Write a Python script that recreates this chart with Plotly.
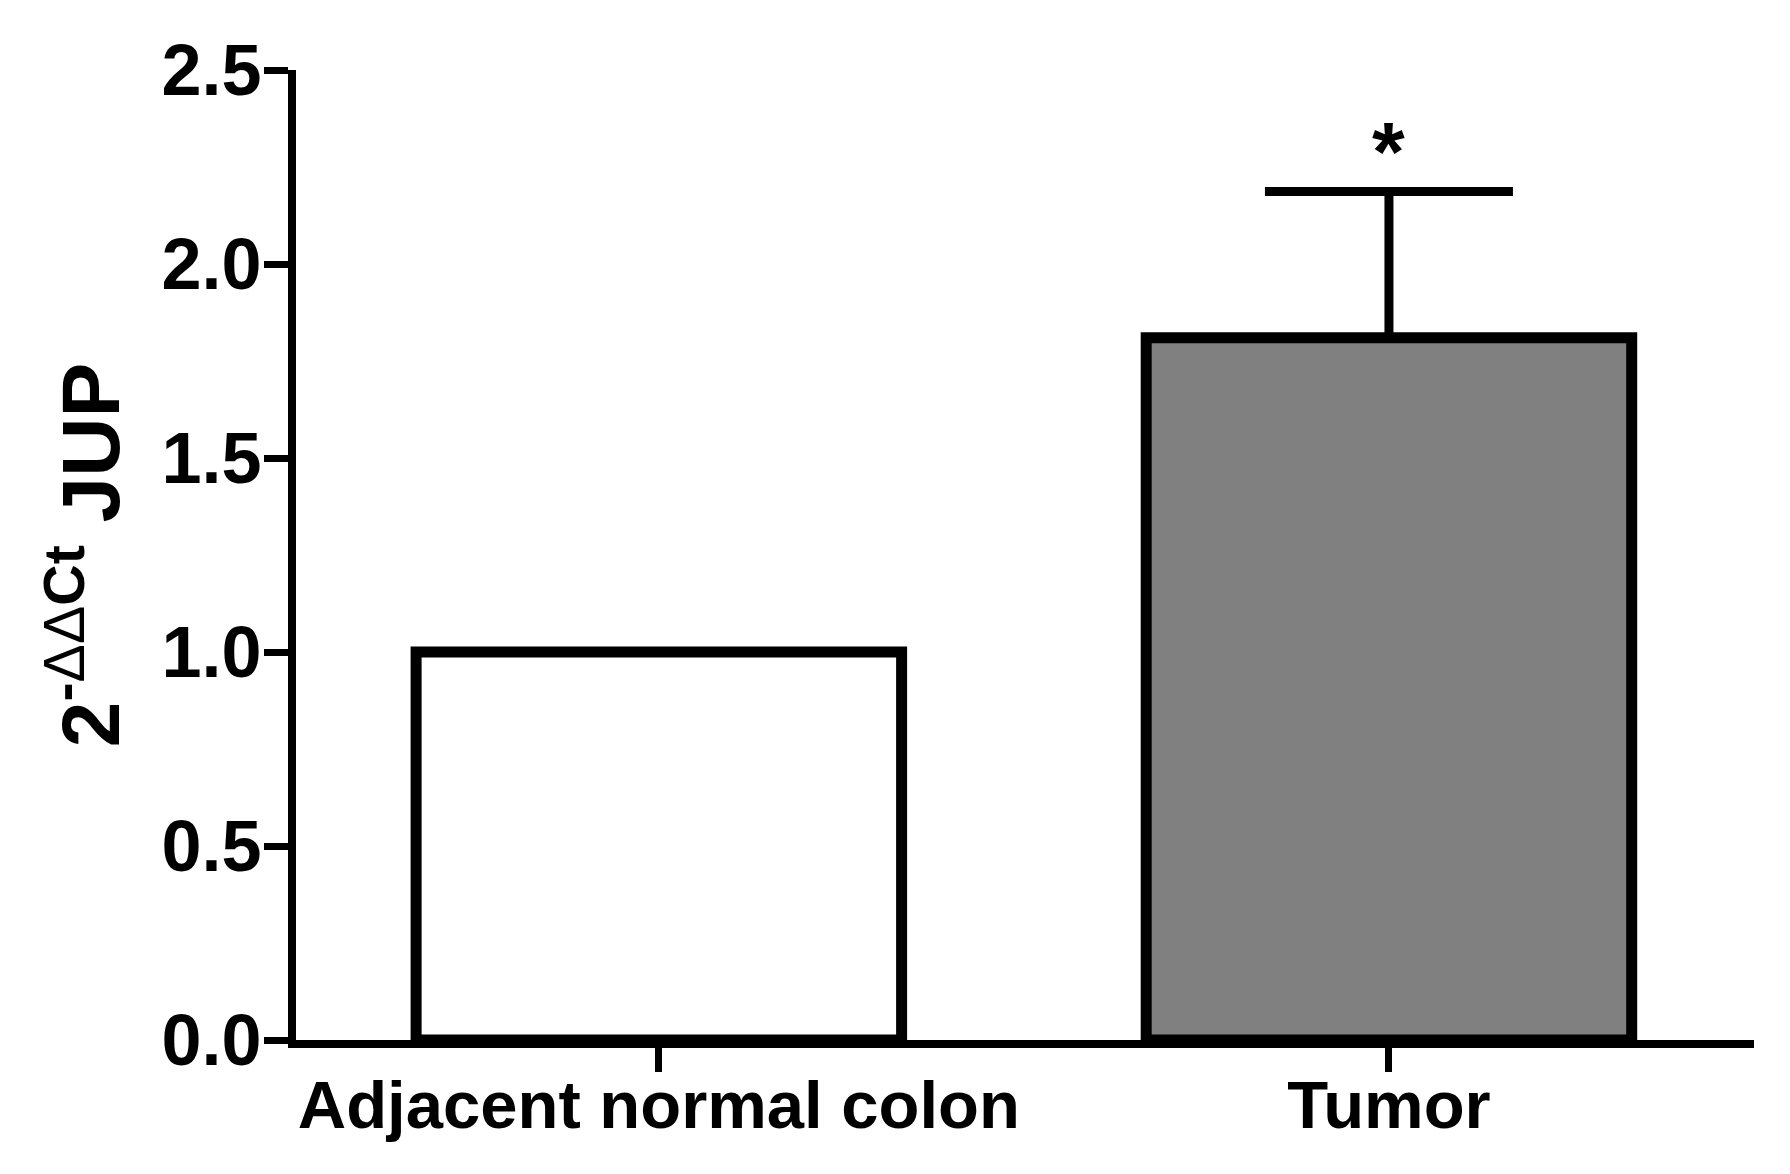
import plotly.graph_objects as go

categories = ["Adjacent normal colon", "Tumor"]
means = [1.0, 1.81]
sem_upper = [0.0, 0.377]
fill_colors = ["#ffffff", "#808080"]
y_ticks = [0.0, 0.5, 1.0, 1.5, 2.0, 2.5]
y_tick_labels = ["0.0", "0.5", "1.0", "1.5", "2.0", "2.5"]
sig_labels = ["", "*"]
y_title = "2<sup>-<span style='font-weight:normal'>ΔΔ</span>Ct</sup> JUP"

FONT = "Liberation Sans, Arial, sans-serif"

fig = go.Figure()
for i, cat in enumerate(categories):
    fig.add_trace(go.Bar(
        x=[i], y=[means[i]],
        width=0.665,
        marker=dict(color=fill_colors[i], line=dict(color="black", width=11)),
        error_y=dict(type="data", symmetric=False, array=[sem_upper[i]],
                     arrayminus=[0], color="black", thickness=9, width=124,
                     visible=sem_upper[i] > 0),
        showlegend=False,
    ))
    if sig_labels[i]:
        fig.add_annotation(x=i, y=means[i] + sem_upper[i], text=sig_labels[i],
                           showarrow=False, yanchor="bottom", yshift=-10,
                           font=dict(family=FONT, size=84, color="black", weight="bold"))

fig.update_layout(
    width=1790, height=1174,
    margin=dict(l=288, r=44, t=62, b=142),
    paper_bgcolor="white", plot_bgcolor="white",
    barmode="overlay",
    font=dict(family=FONT, color="black"),
)
fig.update_xaxes(
    range=[-0.497, 1.5],
    automargin=False,
    tickmode="array", tickvals=list(range(len(categories))), ticktext=categories,
    ticks="outside", ticklen=24, tickwidth=7, tickcolor="black",
    showline=True, linewidth=8, linecolor="black",
    showgrid=False, zeroline=False,
    ticklabelstandoff=-24,
    tickfont=dict(family=FONT, size=67, color="black", weight="bold"),
)
fig.update_yaxes(
    range=[0, 2.5],
    automargin=False,
    tickmode="array", tickvals=y_ticks, ticktext=y_tick_labels,
    ticks="outside", ticklen=24, tickwidth=7, tickcolor="black",
    showline=True, linewidth=8, linecolor="black",
    showgrid=False, zeroline=False,
    ticklabelstandoff=-12,
    tickfont=dict(family=FONT, size=72, color="black", weight="bold"),
    title=dict(text=y_title,
               font=dict(family=FONT, size=82, color="black", weight="bold"),
               standoff=18),
)
fig.write_html("out.html")
